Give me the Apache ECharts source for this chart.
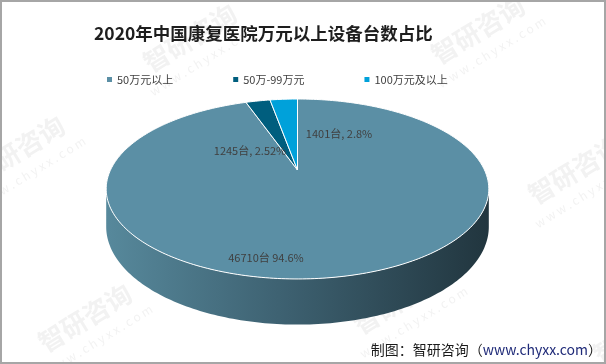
<!DOCTYPE html>
<html>
<head>
<meta charset="utf-8">
<script src="https://cdn.jsdelivr.net/npm/echarts@6/dist/echarts.min.js"></script>
<style>html,body{margin:0;padding:0;background:#fff}#c{width:606px;height:364px}</style>
</head>
<body>
<div id="c"></div>
<script>
// ---- data ----
const titleText = '2020年中国康复医院万元以上设备台数占比';
const categories = ['50万元以上', '50万-99万元', '100万元及以上'];
const values = [46710, 1245, 1401];
const percents = ['94.6', '2.52', '2.8'];
const labelSeps = [' ', ', ', ', '];
const sourceText = '制图：智研咨询（';
const sourceUrl = 'www.chyxx.com';

// ---- layout / style ----
const colors = ['#5b8fa5', '#005e7e', '#00a1da'];
const GEO = { cx: 297.5, y0: 170, b: -50.1, c: 0.211, k: 187, h: 36 };
const labelPos = [[266, 258], [250, 151], [339, 134]];
const FONT = '"Noto Sans CJK SC", "Noto Sans", sans-serif';

function proj(theta, drop) {
  const u = Math.sin(theta), v = Math.cos(theta);
  const s = 1 / (1 + GEO.c * v);
  return [GEO.cx + GEO.k * u * s, (GEO.y0 + GEO.b * v) * s + (drop ? GEO.h * s : 0)];
}
function arc(a0, a1, drop) {
  const pts = [];
  const n = Math.max(2, Math.ceil((a1 - a0) / (Math.PI / 180)));
  for (let j = 0; j <= n; j++) pts.push(proj(a0 + (a1 - a0) * j / n, drop));
  return pts;
}
const total = values.reduce((a, b) => a + b, 0);
const sideA = Math.acos(-GEO.c), sideB = 2 * Math.PI - sideA;

function makeRender(i) {
  return function (params, api) {
    const val = api.value(0);
    let before = 0;
    for (let j = 0; j < i; j++) before += values[j];
    const a0 = before / total * 2 * Math.PI;
    const a1 = a0 + val / total * 2 * Math.PI;
    const children = [];
    const s0 = Math.max(a0, sideA), s1 = Math.min(a1, sideB);
    if (s1 > s0) {
      const top = arc(s0, s1, false), bot = arc(s0, s1, true).reverse();
      children.push({
        type: 'polygon', z2: 1,
        shape: { points: top.concat(bot) },
        style: {
          fill: {
            type: 'linear', x: GEO.cx - GEO.k * 1.03, y: 0, x2: GEO.cx + GEO.k * 1.03, y2: 0, global: true,
            colorStops: [{ offset: 0, color: '#57899c' }, { offset: 0.45, color: '#3e6272' }, { offset: 1, color: '#21353e' }]
          },
          stroke: null
        }
      });
    }
    const pts = [[GEO.cx, GEO.y0]].concat(arc(a0, a1, false));
    children.push({
      type: 'polygon', z2: 10,
      shape: { points: pts },
      style: { fill: colors[i], stroke: '#ffffff', lineWidth: 1, lineJoin: 'round' }
    });
    children.push({
      type: 'text', z2: 30,
      x: labelPos[i][0], y: labelPos[i][1],
      style: {
        text: val + '台' + labelSeps[i] + percents[i] + '%',
        fill: '#404040', font: '11px ' + FONT, align: 'center', verticalAlign: 'middle'
      }
    });
    return { type: 'group', children: children };
  };
}

const series = categories.map((name, i) => ({
  type: 'custom', name: name, coordinateSystem: 'none', silent: true,
  itemStyle: { color: colors[i] },
  data: [[values[i]]],
  renderItem: makeRender(i)
}));

const wm = [[190, 38], [478, 30], [18, 150], [85, 318], [300, 195], [575, 170], [400, 300], [640, 330]];
const wmEls = [];
wm.forEach(p => {
  wmEls.push({
    type: 'group', x: p[0], y: p[1], rotation: 0.55, z: 100, silent: true,
    children: [
      { type: 'text', x: 0, y: 0, style: { text: '智研咨询', font: 'bold 26px ' + FONT, fill: 'rgba(190,190,190,0.2)', align: 'center', verticalAlign: 'middle' } },
      { type: 'text', x: 0, y: 26, style: { text: 'w w w . c h y x x . c o m', font: '12px ' + FONT, fill: 'rgba(190,190,190,0.2)', align: 'center', verticalAlign: 'middle' } }
    ]
  });
});

const chart = echarts.init(document.getElementById('c'), null, { renderer: 'canvas' });
chart.setOption({
  animation: false,
  backgroundColor: '#ffffff',
  title: {
    text: titleText, left: 89, top: 20,
    textStyle: { fontSize: 17.5, fontWeight: 'bold', color: '#1e1e1e', fontFamily: FONT }
  },
  legend: {
    data: categories, left: 102, top: 69, icon: 'rect', itemWidth: 5, itemHeight: 5, itemGap: 60,
    textStyle: { fontSize: 11, color: '#404040', fontFamily: FONT }
  },
  graphic: [
    { type: 'rect', shape: { x: 1, y: 1, width: 604, height: 362 }, style: { fill: null, stroke: '#a6a6a6', lineWidth: 2 }, silent: true, z: 200 },
    {
      type: 'text', x: 602, y: 350, z: 150, silent: true,
      style: {
        text: '{a|' + sourceText + '}{b|' + sourceUrl + '}{a|）}',
        align: 'right', verticalAlign: 'middle',
        rich: {
          a: { fontSize: 14, fill: '#1a1a1a', fontFamily: FONT },
          b: { fontSize: 14, fill: '#1f2a78', fontFamily: FONT }
        }
      }
    }
  ].concat(wmEls),
  series: series
});
</script>
</body>
</html>
